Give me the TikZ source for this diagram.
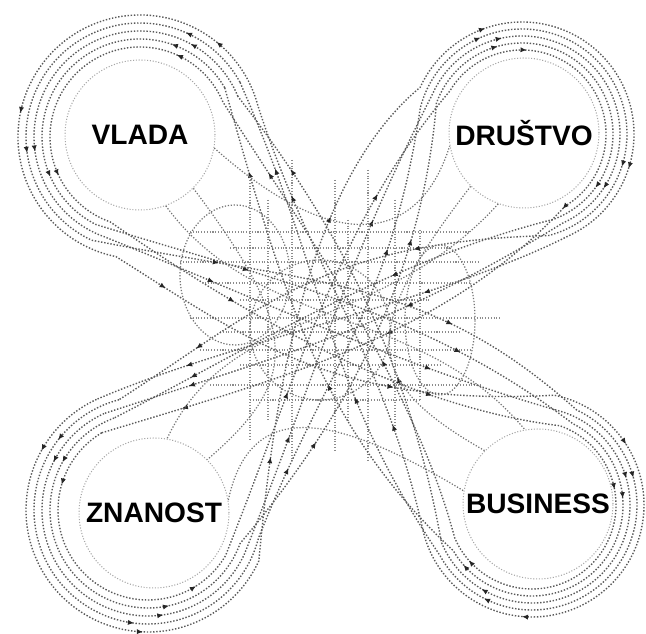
\documentclass[tikz,border=0pt]{standalone}
\usepackage{fontspec}
\setmainfont{Liberation Sans}
\usetikzlibrary{calc, arrows.meta, decorations.markings}

\tikzset{
  hub/.style={
    circle,
    draw=black!35,
    densely dotted,
    line width=0.6pt,
    minimum size=3cm,
    inner sep=0pt,
    font=\fontsize{16}{18}\selectfont\bfseries
  },
  belt/.style={
    draw=black!65,
    densely dotted,
    line width=0.8pt,
    postaction={decorate, decoration={markings,
      mark=between positions 0.04 and 1 step 0.13 with {\arrow[black!85]{Latex[length=3.5pt,width=3pt]}}}}
  },
  link/.style={draw=black!55, densely dotted, line width=0.7pt},
  gridline/.style={draw=black!45, densely dotted, line width=0.6pt}
}

\begin{document}
\begin{tikzpicture}[x=0.02cm, y=0.02cm]
  \useasboundingbox (0,0) rectangle (646,634);

  % centres of the rings
  \coordinate (vc) at (140,497);
  \coordinate (dc) at (522,500);
  \coordinate (zc) at (148,124);
  \coordinate (bc) at (532,129);

  % grid in the middle
  \foreach \y/\xa/\xb in {402/190/470, 386/230/450, 372/180/480, 351/205/470, 334/240/430,
      316/190/500, 302/220/460, 284/200/470, 269/240/440, 249/210/480, 234/250/420}
    \draw[gridline] (\xa,\y) -- (\xb,\y);
  \foreach \x/\ya/\yb in {250/454/194, 268/434/214, 292/474/174, 335/454/184,
      348/414/214, 368/464/174, 395/434/204, 420/404/234}
    \draw[gridline] (\x,\ya) -- (\x,\yb);

  % hubs
  \node[hub] (vlada) at (140,499) {VLADA};
  \node[hub] (drustvo) at (524,501) {DRUŠTVO};
  \node[hub] (znanost) at (154,121) {ZNANOST};
  \node[hub] (business) at (538,130) {BUSINESS};

  % belts VLADA -- BUSINESS
  \foreach \ra/\rb/\dl/\L/\b/\c in {90/84/-5/150/-40/25, 98/91/4/190/35/-55, 106/98/-2/170/-10/45,
      114/105/6/210/60/-20, 122/112/-6/180/-65/10}{
    \pgfmathsetmacro\ph{acos((\ra+\rb)/537.7)+\dl}
    \pgfmathsetmacro\sa{-43.2+\ph}
    \pgfmathsetmacro\ea{316.8-\ph}
    \pgfmathsetmacro\sb{136.8-\ph}
    \pgfmathsetmacro\eb{-223.2+\ph}
    \draw[belt] ($(vc)+(\sa:\ra)$) arc[start angle=\sa, end angle=\ea, radius=\ra]
      .. controls ($(vc)+(\ea:\ra)+(\ea+90:\L)+(46.8:\b)$) and ($(bc)+(\sb:\rb)+(\sb+90:\L)+(46.8:\b)$)
      .. ($(bc)+(\sb:\rb)$)
      arc[start angle=\sb, end angle=\eb, radius=\rb]
      .. controls ($(bc)+(\eb:\rb)+(\eb-90:\L)+(46.8:\c)$) and ($(vc)+(\sa:\ra)+(\sa-90:\L)+(46.8:\c)$)
      .. ($(vc)+(\sa:\ra)$);
  }

  % belts ZNANOST -- DRUSTVO
  \foreach \ra/\rb/\dl/\L/\b/\c in {90/84/5/180/30/-50, 98/91/-4/160/-55/20, 106/98/2/200/10/-25,
      114/105/-6/190/-25/60, 122/112/6/150/65/-5}{
    \pgfmathsetmacro\ph{acos((\ra+\rb)/530.3)+\dl}
    \pgfmathsetmacro\sa{45.15+\ph}
    \pgfmathsetmacro\ea{405.15-\ph}
    \pgfmathsetmacro\sb{225.15-\ph}
    \pgfmathsetmacro\eb{-134.85+\ph}
    \draw[belt] ($(zc)+(\sa:\ra)$) arc[start angle=\sa, end angle=\ea, radius=\ra]
      .. controls ($(zc)+(\ea:\ra)+(\ea+90:\L)+(135.15:\b)$) and ($(dc)+(\sb:\rb)+(\sb+90:\L)+(135.15:\b)$)
      .. ($(dc)+(\sb:\rb)$)
      arc[start angle=\sb, end angle=\eb, radius=\rb]
      .. controls ($(dc)+(\eb:\rb)+(\eb-90:\L)+(135.15:\c)$) and ($(zc)+(\sa:\ra)+(\sa-90:\L)+(135.15:\c)$)
      .. ($(zc)+(\sa:\ra)$);
  }

  % links between neighbours
  \draw[link] (vlada.-45) .. controls (300,304) and (300,254) .. (znanost.45);
  \draw[link] (drustvo.225) .. controls (360,304) and (360,254) .. (business.135);
  \draw[link] (vlada.-10) .. controls (340,374) and (420,394) .. (drustvo.190);
  \draw[link] (znanost.10) .. controls (250,234) and (330,224) .. (business.170);
  \draw[link] (vlada.-70) .. controls (260,300) and (420,330) .. (business.100);
  \draw[link] (drustvo.250) .. controls (380,300) and (230,330) .. (znanost.80);
  \draw[link] (235,359) ellipse[x radius=55, y radius=70];
  \draw[link] (440,314) ellipse[x radius=35, y radius=75];
  \draw[link] (320,304) circle[radius=70];
\end{tikzpicture}
\end{document}
